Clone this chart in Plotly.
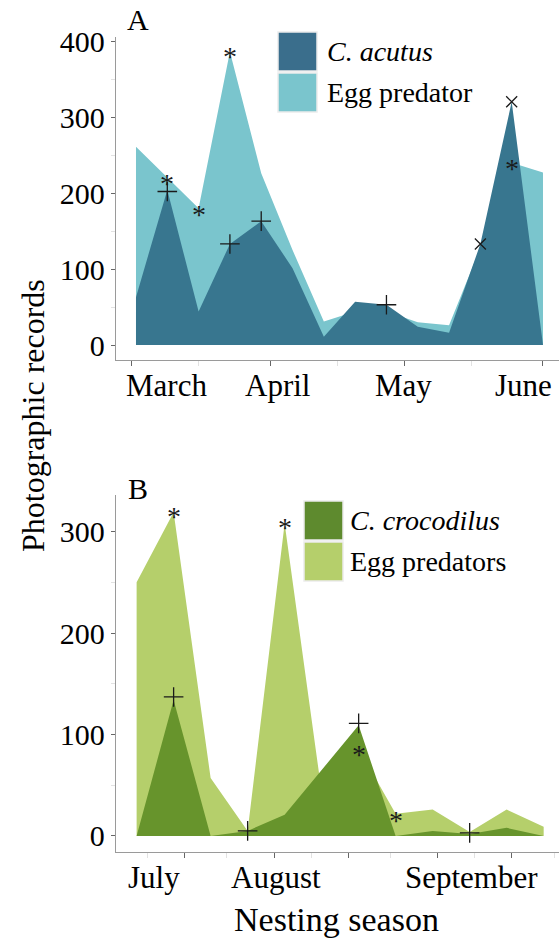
import plotly.graph_objects as go
import pandas as pd

# ---------------- Panel A data (C. acutus, weekly) ----------------
a_dates = ["2021-03-02", "2021-03-09", "2021-03-16", "2021-03-23", "2021-03-30",
           "2021-04-06", "2021-04-13", "2021-04-20", "2021-04-27", "2021-05-04",
           "2021-05-11", "2021-05-18", "2021-05-25", "2021-06-01"]
a_acutus = [63, 204, 44, 133, 163, 101, 11, 57, 53, 24, 16, 133, 320, 0]
a_predator = [261, 220, 180, 386, 226, 125, 31, 44, 44, 30, 26, 128, 240, 227]

a_plus_x = ["2021-03-09", "2021-03-23", "2021-03-30", "2021-04-27"]
a_plus_y = [202, 133, 163, 53]
a_cross_x = ["2021-05-18", "2021-05-25"]
a_cross_y = [133, 320]
a_ast_x = ["2021-03-09", "2021-03-16", "2021-03-23", "2021-05-25"]
a_ast_y = [220, 180, 388, 240]

a_tick_vals = ["2021-03-01", "2021-04-01", "2021-05-01", "2021-06-01"]
a_minor_vals = ["2021-03-16", "2021-04-16", "2021-05-16"]
a_month_labels = ["March", "April", "May", "June"]
a_month_label_pos = ["2021-03-08 19:00", "2021-04-02 14:00", "2021-04-30 17:00", "2021-05-27 18:00"]

# ---------------- Panel B data (C. crocodilus, weekly) ----------------
b_dates = ["2021-07-06", "2021-07-13", "2021-07-20", "2021-07-27", "2021-08-03",
           "2021-08-10", "2021-08-17", "2021-08-24", "2021-08-31", "2021-09-07",
           "2021-09-14", "2021-09-21"]
b_crocodilus = [0, 134, 0, 5, 21, 65, 109, 0, 5, 2, 8, 0]
b_predators = [250, 319, 57, 5, 308, 43, 86, 22, 26, 4, 26, 9]

b_plus_x = ["2021-07-13", "2021-07-27", "2021-08-17", "2021-09-07"]
b_plus_y = [137, 5, 111, 3]
b_ast_x = ["2021-07-13", "2021-08-03", "2021-08-17", "2021-08-24"]
b_ast_y = [321, 310, 86, 21]

b_tick_vals = ["2021-07-15", "2021-08-01", "2021-08-15", "2021-09-01", "2021-09-15"]
b_minor_vals = ["2021-07-08", "2021-07-23", "2021-08-08", "2021-08-23", "2021-09-08", "2021-09-23"]
b_month_labels = ["July", "August", "September"]
b_month_label_pos = ["2021-07-09 08:00", "2021-08-01 10:00", "2021-09-07 08:00"]

a_yticks = [0, 100, 200, 300, 400]
a_yminor = [50, 150, 250, 350]
b_yticks = [0, 100, 200, 300]
b_yminor = [50, 150, 250]

# ---------------- styling ----------------
FONT = "Liberation Serif"
A_DARK_LEG = "rgb(58,110,140)"
A_DARK = "rgb(56,118,143)"
A_LIGHT = "rgb(122,197,205)"
B_DARK_LEG = "rgb(94,138,46)"
B_DARK = "rgb(103,148,44)"
B_LIGHT = "rgb(181,207,107)"
MARK = "#1a1a1a"

W, H = 559, 943
ML, MR, MT, MB = 116, 0, 37, 91
PW, PH = W - ML - MR, H - MT - MB


def px(x):
    return (x - ML) / PW


def py(y):
    return (H - MB - y) / PH


def date_range(dates, left_days, right_days):
    d0 = pd.Timestamp(dates[0]) - pd.Timedelta(days=left_days)
    d1 = pd.Timestamp(dates[-1]) + pd.Timedelta(days=right_days)
    return [str(d0), str(d1)]


fig = go.Figure()

# Panel A areas: light below, dark on top
fig.add_trace(go.Scatter(x=a_dates, y=a_predator, mode="lines", fill="tozeroy",
                         fillcolor=A_LIGHT, line=dict(width=0), xaxis="x", yaxis="y",
                         showlegend=False, hoverinfo="skip"))
fig.add_trace(go.Scatter(x=a_dates, y=a_acutus, mode="lines", fill="tozeroy",
                         fillcolor=A_DARK, line=dict(width=0), xaxis="x", yaxis="y",
                         showlegend=False, hoverinfo="skip"))
# Panel B areas
fig.add_trace(go.Scatter(x=b_dates, y=b_predators, mode="lines", fill="tozeroy",
                         fillcolor=B_LIGHT, line=dict(width=0), xaxis="x2", yaxis="y2",
                         showlegend=False, hoverinfo="skip"))
fig.add_trace(go.Scatter(x=b_dates, y=b_crocodilus, mode="lines", fill="tozeroy",
                         fillcolor=B_DARK, line=dict(width=0), xaxis="x2", yaxis="y2",
                         showlegend=False, hoverinfo="skip"))

# markers
plus_style = dict(symbol="cross-thin", size=14, line=dict(width=1.3, color=MARK), color=MARK)
x_style = dict(symbol="x-thin", size=11, line=dict(width=1.3, color=MARK), color=MARK)

fig.add_trace(go.Scatter(x=a_plus_x, y=a_plus_y, mode="markers", marker=plus_style,
                         xaxis="x", yaxis="y", showlegend=False))
fig.add_trace(go.Scatter(x=a_cross_x, y=a_cross_y, mode="markers", marker=x_style,
                         xaxis="x", yaxis="y", showlegend=False))
fig.add_trace(go.Scatter(x=b_plus_x, y=b_plus_y, mode="markers", marker=plus_style,
                         xaxis="x2", yaxis="y2", showlegend=False))

AXLINE = "#9a9a9a"
TICKC = "#666666"
MINORC = "#e2e2e2"

xcommon = dict(type="date", showline=True, linecolor=AXLINE, linewidth=1.3,
               ticks="outside", ticklen=5, tickwidth=1.2, tickcolor=TICKC,
               showticklabels=False, showgrid=False, zeroline=False, fixedrange=True)
ycommon = dict(showline=True, linecolor=AXLINE, linewidth=1.3,
               ticks="outside", ticklen=4, tickwidth=1.2, tickcolor=TICKC,
               tickfont=dict(family=FONT, size=30, color="black"),
               showgrid=False, zeroline=False, fixedrange=True)

fig.update_layout(
    width=W, height=H,
    margin=dict(l=ML, r=MR, t=MT, b=MB),
    paper_bgcolor="white", plot_bgcolor="white",
    showlegend=False,
    xaxis=dict(**xcommon, anchor="y", domain=[0, 1],
               range=date_range(a_dates, 4.47, 3.58),
               tickmode="array", tickvals=a_tick_vals,
               minor=dict(tickmode="array", tickvals=a_minor_vals, ticklen=5,
                          tickcolor=MINORC, ticks="outside", tickwidth=1.2)),
    yaxis=dict(**ycommon, anchor="x", domain=[py(360), py(37)],
               range=[-19.7, 405.3], tickmode="array", tickvals=a_yticks,
               minor=dict(tickmode="array", tickvals=a_yminor, ticklen=4,
                          tickcolor=MINORC, ticks="outside", tickwidth=1.2)),
    xaxis2=dict(**xcommon, anchor="y2", domain=[0, 1],
                range=date_range(b_dates, 3.9, 2.9),
                tickmode="array", tickvals=b_tick_vals,
                minor=dict(tickmode="array", tickvals=b_minor_vals, ticklen=5,
                           tickcolor=MINORC, ticks="outside", tickwidth=1.2)),
    yaxis2=dict(**ycommon, anchor="x2", domain=[0, py(495)],
                range=[-15.8, 336], tickmode="array", tickvals=b_yticks,
                minor=dict(tickmode="array", tickvals=b_yminor, ticklen=4,
                           tickcolor=MINORC, ticks="outside", tickwidth=1.2)),
)

annotations = []

# asterisk significance marks, placed through the axes
ast_font = dict(family=FONT, size=28, color=MARK)
for xs, ys, xr, yr in [(a_ast_x, a_ast_y, "x", "y"), (b_ast_x, b_ast_y, "x2", "y2")]:
    for xv, yv in zip(xs, ys):
        annotations.append(dict(text="*", x=xv, y=yv, xref=xr, yref=yr,
                                xanchor="center", yanchor="middle", yshift=-6,
                                showarrow=False, font=ast_font))

label_font = dict(family=FONT, size=31, color="black")
for lab, pos in zip(a_month_labels, a_month_label_pos):
    annotations.append(dict(text=lab, x=pos, xref="x", y=py(360), yref="paper",
                            xanchor="center", yanchor="top", yshift=-6,
                            showarrow=False, font=label_font))
for lab, pos in zip(b_month_labels, b_month_label_pos):
    annotations.append(dict(text=lab, x=pos, xref="x2", y=py(852), yref="paper",
                            xanchor="center", yanchor="top", yshift=-6,
                            showarrow=False, font=label_font))

# axis titles and panel letters
annotations.append(dict(text="Nesting season", x=px(336), y=py(919), xref="paper", yref="paper",
                        xanchor="center", yanchor="middle", showarrow=False,
                        font=dict(family=FONT, size=34, color="black")))
annotations.append(dict(text="Photographic records", x=px(33), y=py(416), xref="paper",
                        yref="paper", xanchor="center", yanchor="middle", textangle=-90,
                        showarrow=False, font=dict(family=FONT, size=32, color="black")))
annotations.append(dict(text="A", x=px(138), y=py(20), xref="paper", yref="paper",
                        xanchor="center", yanchor="middle", showarrow=False,
                        font=dict(family=FONT, size=30, color="black")))
annotations.append(dict(text="B", x=px(138), y=py(488), xref="paper", yref="paper",
                        xanchor="center", yanchor="middle", showarrow=False,
                        font=dict(family=FONT, size=30, color="black")))

# manual legends
shapes = []
legend_font = dict(family=FONT, size=28, color="black")


def add_legend(x0, x1, boxes, text_x, labels, colors):
    for (y0, y1), lab, col in zip(boxes, labels, colors):
        shapes.append(dict(type="rect", xref="paper", yref="paper",
                           x0=px(x0), x1=px(x1), y0=py(y1), y1=py(y0),
                           fillcolor=col, line=dict(color="#ececec", width=1.5)))
        annotations.append(dict(text=lab, x=px(text_x), y=py((y0 + y1) / 2),
                                xref="paper", yref="paper", xanchor="left",
                                yanchor="middle", showarrow=False, font=legend_font))


add_legend(278, 317, [(32, 71), (73, 112)], 325,
           ["<i>C. acutus</i>", "Egg predator"], [A_DARK_LEG, A_LIGHT])
add_legend(304, 343, [(501, 540), (542, 581)], 348,
           ["<i>C. crocodilus</i>", "Egg predators"], [B_DARK_LEG, B_LIGHT])

fig.update_layout(annotations=annotations, shapes=shapes)

fig.write_html("out.html")
